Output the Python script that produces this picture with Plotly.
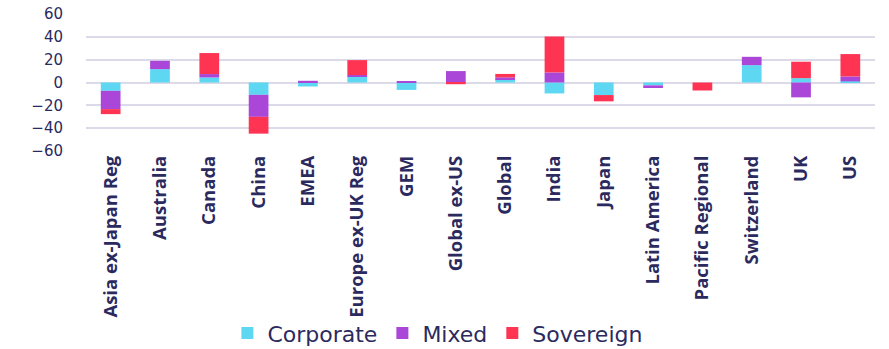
import plotly.graph_objects as go

categories = ["Asia ex-Japan Reg", "Australia", "Canada", "China", "EMEA",
              "Europe ex-UK Reg", "GEM", "Global ex-US", "Global", "India",
              "Japan", "Latin America", "Pacific Regional", "Switzerland", "UK", "US"]
corporate = [-7.3, 11.7, 4.4, -10.8, -3.5, 5.0, -6.5, 0.0, 3.0, -9.6,
             -11.0, -2.5, 0.0, 15.2, 3.8, 1.0]
mixed = [-16.0, 7.3, 3.0, -19.3, 1.5, 1.5, 1.0, 10.0, 1.5, 8.8,
         0.0, -2.3, 0.0, 7.3, -13.0, 4.3]
sovereign = [-4.4, 0.0, 18.4, -14.7, 0.0, 13.1, 0.0, -1.5, 3.0, 31.5,
             -5.5, 0.0, -7.0, 0.0, 14.4, 19.6]
y_ticks = [-60, -40, -20, 0, 20, 40, 60]

navy = "#2B2A5E"
fig = go.Figure()
for name, vals, col in [("Corporate", corporate, "#5ED8F2"),
                        ("Mixed", mixed, "#AA46D8"),
                        ("Sovereign", sovereign, "#FF3453")]:
    fig.add_trace(go.Bar(x=categories, y=vals, name=name, marker_color=col,
                         marker_line_width=0))

fig.update_layout(
    width=889, height=349,
    margin=dict(l=86, r=14, t=14, b=198, autoexpand=False),
    barmode="relative", bargap=0.6,
    plot_bgcolor="white", paper_bgcolor="white",
    font=dict(family="DejaVu Sans", color=navy),
    showlegend=True,
    legend=dict(orientation="h", x=0.446, xanchor="center",
                yref="container", y=0.045, yanchor="middle",
                bgcolor="rgba(0,0,0,0)",
                font=dict(size=22, color=navy), traceorder="normal"),
)
fig.update_xaxes(tickangle=-90,
                 tickfont=dict(family="Open Sans", size=18.5, color=navy, weight="bold"),
                 showgrid=False, zeroline=False, showline=False, ticks="",
                 automargin=False)
fig.update_yaxes(range=[-60, 60], tickvals=y_ticks, tickfont=dict(size=15, color=navy),
                 showgrid=True, gridcolor="#DCDAE8", gridwidth=1.5, zeroline=True,
                 zerolinecolor="#DCDAE8", zerolinewidth=1.5, ticks="",
                 ticklabelstandoff=22, automargin=False)

fig.write_html("out.html")
